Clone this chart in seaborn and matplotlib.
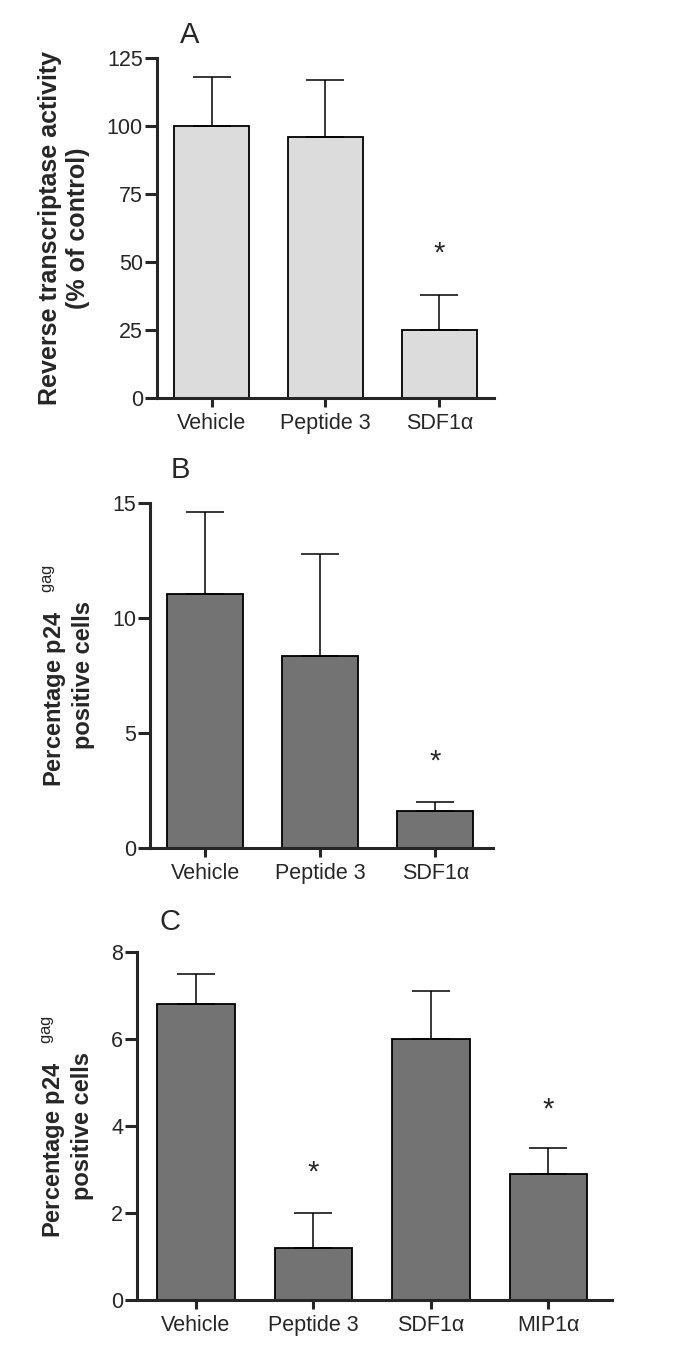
import matplotlib
matplotlib.use('Agg')
import seaborn as sns
import pandas as pd
import matplotlib.pyplot as plt

# data (bar = mean, upper error bar only)
groups_ab = ['Vehicle', 'Peptide 3', 'SDF1α']
groups_c = ['Vehicle', 'Peptide 3', 'SDF1α', 'MIP1α']

rt_mean = [100, 96, 25]
rt_err = [18, 21, 13]
rt_stars = [None, None, 55]

p24_b_mean = [11.05, 8.35, 1.6]
p24_b_err = [3.55, 4.45, 0.4]
p24_b_stars = [None, None, 3.96]

p24_c_mean = [6.8, 1.2, 6.0, 2.9]
p24_c_err = [0.7, 0.8, 1.1, 0.6]
p24_c_stars = [None, 3.03, None, 4.48]

sns.set_style('ticks')
plt.rcParams['font.family'] = ['Liberation Sans', 'DejaVu Sans']
plt.rcParams['mathtext.fontset'] = 'custom'
plt.rcParams['mathtext.rm'] = 'Liberation Sans'
plt.rcParams['mathtext.it'] = 'Liberation Sans:italic'
plt.rcParams['mathtext.bf'] = 'Liberation Sans:bold'

fig = plt.figure(figsize=(6.85, 13.59), dpi=100)

def panel(rect, groups, means, errs, stars, color, ylim, yticks, ylabel, labsize, xlim):
    ax = fig.add_axes(rect)
    df = pd.DataFrame({'group': groups, 'value': means})
    sns.barplot(data=df, x='group', y='value', color=color, saturation=1,
                edgecolor='black', linewidth=1.3, width=0.66, errorbar=None, ax=ax)
    ax.errorbar(range(len(groups)), means, yerr=[[0] * len(errs), errs], fmt='none',
                ecolor='black', elinewidth=1.1, capsize=14, capthick=1.1, zorder=1)
    for i, s in enumerate(stars):
        if s is not None:
            ax.annotate('*', (i, s), xytext=(0, -3.5), textcoords='offset points',
                        ha='center', va='center', fontsize=21)
    ax.set_ylim(*ylim)
    ax.set_yticks(yticks)
    ax.set_xlim(*xlim)
    sns.despine(ax=ax)
    for sp in ['left', 'bottom']:
        ax.spines[sp].set_linewidth(2.2)
    ax.tick_params(axis='y', length=9, width=2.2, labelsize=15.5, pad=1)
    ax.tick_params(axis='x', length=6.5, width=2.2, labelsize=15.5, pad=4)
    ax.set_xlabel('')
    ax.set_ylabel(ylabel, fontsize=labsize, fontweight='bold', labelpad=12, linespacing=1.2)
    return ax

panel([0.229, 0.7071, 0.492, 0.2502], groups_ab, rt_mean, rt_err, rt_stars, '#dcdcdc',
      (0, 125), [0, 25, 50, 75, 100, 125],
      'Reverse transcriptase activity\n(% of control)', 18, (-0.48, 2.48))

p24_label = 'Percentage p24   $^{\\rm gag}$\npositive cells'
panel([0.219, 0.376, 0.5007, 0.2539], groups_ab, p24_b_mean, p24_b_err, p24_b_stars, '#737373',
      (0, 15), [0, 5, 10, 15], p24_label, 17, (-0.48, 2.5))

panel([0.2, 0.0434, 0.6934, 0.2561], groups_c, p24_c_mean, p24_c_err, p24_c_stars, '#737373',
      (0, 8), [0, 2, 4, 6, 8], p24_label, 17, (-0.5, 3.54))

fig.text(190 / 685, 1 - 35 / 1359, 'A', fontsize=21, ha='center', va='center')
fig.text(180 / 685, 1 - 470 / 1359, 'B', fontsize=21, ha='center', va='center')
fig.text(170 / 685, 1 - 922 / 1359, 'C', fontsize=21, ha='center', va='center')

fig.savefig('out.png', dpi=100, facecolor='white')
